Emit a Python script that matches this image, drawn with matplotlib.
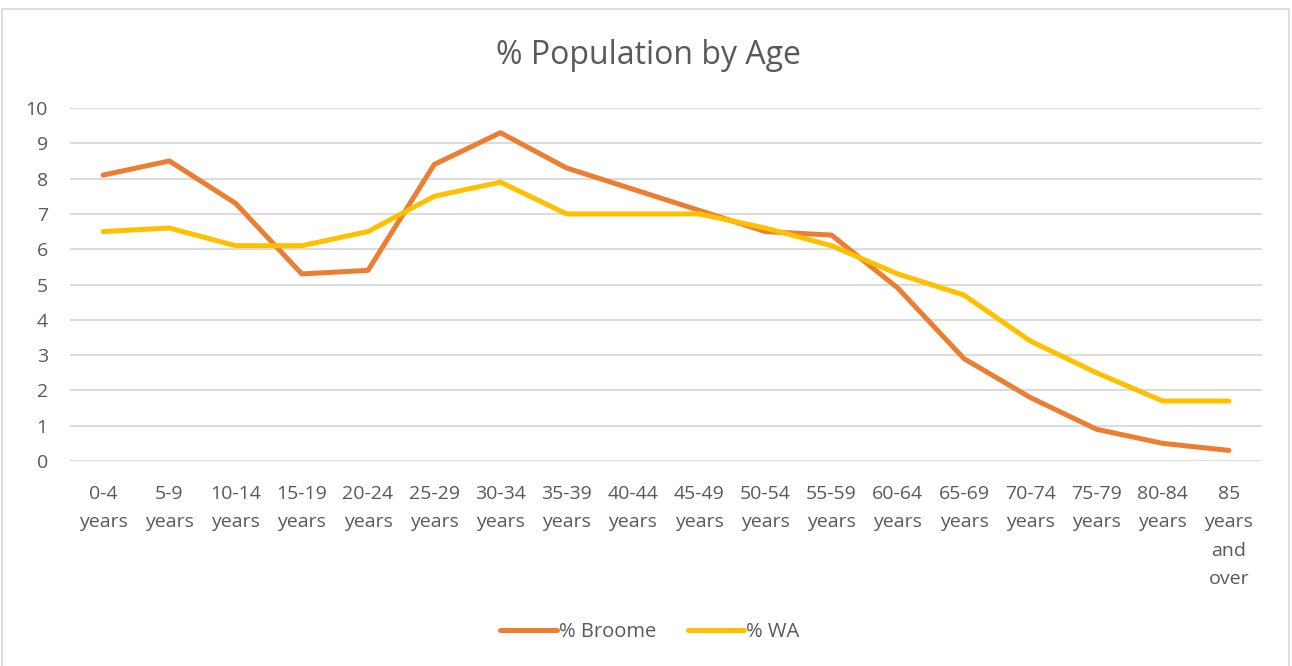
import matplotlib.pyplot as plt
from matplotlib.patches import Rectangle

plt.rcParams['font.family'] = ['Open Sans', 'DejaVu Sans']

age_groups = [
    "0-4\nyears", "5-9\nyears", "10-14\nyears", "15-19\nyears", "20-24\nyears",
    "25-29\nyears", "30-34\nyears", "35-39\nyears", "40-44\nyears", "45-49\nyears",
    "50-54\nyears", "55-59\nyears", "60-64\nyears", "65-69\nyears", "70-74\nyears",
    "75-79\nyears", "80-84\nyears", "85\nyears\nand\nover",
]
broome = [8.1, 8.5, 7.3, 5.3, 5.4, 8.4, 9.3, 8.3, 7.7, 7.1, 6.5, 6.4, 4.9, 2.9, 1.8, 0.9, 0.5, 0.3]
wa = [6.5, 6.6, 6.1, 6.1, 6.5, 7.5, 7.9, 7.0, 7.0, 7.0, 6.6, 6.1, 5.3, 4.7, 3.4, 2.5, 1.7, 1.7]

text_col = "#595959"

fig = plt.figure(figsize=(12.92, 6.66), dpi=100)
ax = fig.add_axes([70 / 1292, 1 - 461 / 666, 1192 / 1292, 353 / 666])

x = list(range(len(age_groups)))
ax.plot(x, broome, color="#ED7D31", lw=3.6, solid_capstyle="round", solid_joinstyle="round", label="% Broome")
ax.plot(x, wa, color="#FFC000", lw=3.6, solid_capstyle="round", solid_joinstyle="round", label="% WA")

ax.set_xlim(-0.5, len(age_groups) - 0.5)
ax.set_ylim(0, 10)
ax.set_yticks(range(0, 11))
ax.set_xticks(x)
ax.set_xticklabels(age_groups, linespacing=1.75)
ax.grid(axis="y", color="#D9D9D9", lw=1.3)
ax.set_axisbelow(True)
for s in ax.spines.values():
    s.set_visible(False)
ax.tick_params(axis="both", length=0, colors=text_col, labelsize=14)
ax.tick_params(axis="y", pad=16)
ax.tick_params(axis="x", pad=17)

fig.text(0.502, 1 - 56 / 666, "% Population by Age", ha="center", va="center",
         fontsize=23, color=text_col)

fig.legend(loc="center", bbox_to_anchor=(0.503, 1 - 632 / 666), ncol=2, frameon=False,
           fontsize=14.5, labelcolor=text_col, handlelength=2.8, handletextpad=0.1,
           columnspacing=1.6)

fig.patches.append(Rectangle((2 / 1292, -0.01), 1287 / 1292, 1 - 9 / 666 + 0.01,
                             transform=fig.transFigure, fill=False,
                             edgecolor="#D9D9D9", lw=1.2))

fig.savefig("out.png", dpi=100)
